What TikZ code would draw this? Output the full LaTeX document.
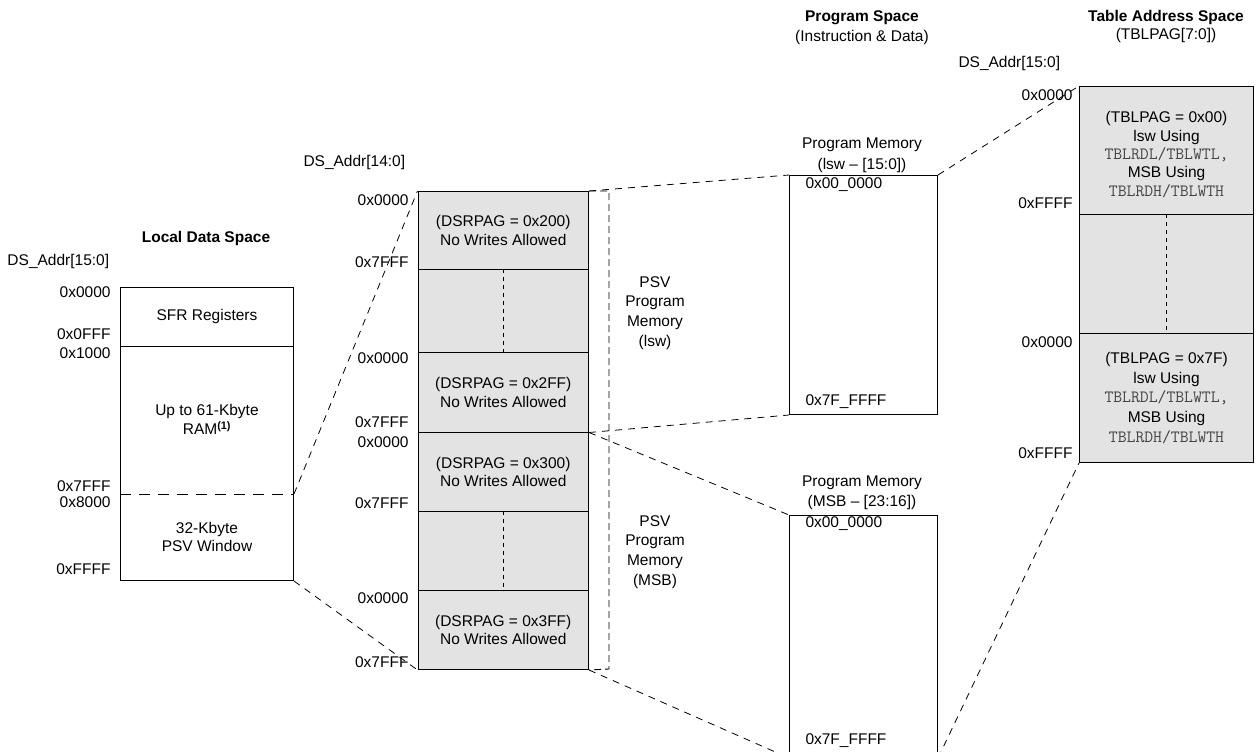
\documentclass[tikz,border=0pt]{standalone}
\usepackage{fontspec}
\setmainfont{Liberation Sans}
\usetikzlibrary{calc}
\definecolor{segfill}{HTML}{E3E3E3}
\definecolor{monogray}{HTML}{444444}
\newcommand{\mono}[1]{{\ttfamily\fontsize{17.2}{19}\selectfont\color{monogray}#1}}
\begin{document}
\begin{tikzpicture}[x=1pt,y=-1pt,
  font=\fontsize{15.5}{18.5}\selectfont,
  line width=1pt,
  outer/.style={draw=black, line width=1pt, inner sep=0pt, anchor=north west},
  seg/.style={draw=black, fill=segfill, line width=1pt, inner sep=0pt, anchor=north west, align=center},
  txt/.style={inner sep=0pt, anchor=north west, align=center},
  lbl/.style={anchor=east, inner sep=0pt},
  lftlbl/.style={anchor=west, inner sep=0pt},
  ttl/.style={inner sep=0pt, font=\fontsize{15.5}{18.5}\selectfont\bfseries},
  conn/.style={draw=black, line width=0.8pt, dash pattern=on 7pt off 6pt},
  longdash/.style={draw=black, line width=1pt, dash pattern=on 11pt off 8pt},
  dotln/.style={draw=black, line width=0.9pt, dash pattern=on 4pt off 4pt},
  brk/.style={draw=black, line width=0.9pt, dash pattern=on 7pt off 4pt}
]
\useasboundingbox (0,0) rectangle (1259,752);

% ---------- Local Data Space ----------
\node[ttl] (ldsttl) at (206,238) {Local Data Space};
\node[lftlbl] (ldsaddr) at (7,261) {DS\_Addr[15:0]};
\node[outer, minimum width=173pt, minimum height=293pt] (loc) at (120,287) {};
\node[txt, minimum width=173pt, minimum height=58pt] (sfr) at (120,287) {SFR Registers};
\node[txt, minimum width=173pt, minimum height=148pt] (ram) at (120,345) {Up to 61-Kbyte\\RAM\textsuperscript{\textbf{(1)}}};
\node[txt, minimum width=173pt, minimum height=87pt] (psvw) at (120,493) {32-Kbyte\\PSV Window};
\draw (sfr.south west) -- (sfr.south east);
\draw[longdash] (ram.south west) -- (ram.south east);
\node[lbl] (la1) at (111,292) {0x0000};
\node[lbl] (la2) at (111,334) {0x0FFF};
\node[lbl] (la3) at (111,353) {0x1000};
\node[lbl] (la4) at (111,486) {0x7FFF};
\node[lbl] (la5) at (111,502) {0x8000};
\node[lbl] (la6) at (111,569) {0xFFFF};

% ---------- Middle column (PSV pages) ----------
\node[lftlbl] (maddr) at (303,162) {DS\_Addr[14:0]};
\node[seg, minimum width=170.5pt, minimum height=78pt] (m1) at (417.5,191) {(DSRPAG = 0x200)\\No Writes Allowed};
\node[seg, minimum width=170.5pt, minimum height=83pt] (m2) at (417.5,269) {};
\node[seg, minimum width=170.5pt, minimum height=79.5pt] (m3) at (417.5,352) {(DSRPAG = 0x2FF)\\No Writes Allowed};
\node[seg, minimum width=170.5pt, minimum height=79.5pt] (m4) at (417.5,431.5) {(DSRPAG = 0x300)\\No Writes Allowed};
\node[seg, minimum width=170.5pt, minimum height=79pt] (m5) at (417.5,511) {};
\node[seg, minimum width=170.5pt, minimum height=79pt] (m6) at (417.5,590) {(DSRPAG = 0x3FF)\\No Writes Allowed};
\draw[dotln] (m2.north) -- (m2.south);
\draw[dotln] (m5.north) -- (m5.south);
\node[lbl] (ma1) at (409,200) {0x0000};
\node[lbl] (ma2) at (409,262) {0x7FFF};
\node[lbl] (ma3) at (409,358) {0x0000};
\node[lbl] (ma4) at (409,422) {0x7FFF};
\node[lbl] (ma5) at (409,442) {0x0000};
\node[lbl] (ma6) at (409,503) {0x7FFF};
\node[lbl] (ma7) at (409,598) {0x0000};
\node[lbl] (ma8) at (409,662) {0x7FFF};
\coordinate (bt) at (609,191);
\coordinate (bb) at (609,669);
\draw[brk] (m1.north east) -- (bt) -- (bb) -- (m6.south east);
\node[inner sep=0pt, align=center, font=\fontsize{15.5}{19.8}\selectfont] (psvl) at (655,313) {PSV\\Program\\Memory\\(lsw)};
\node[inner sep=0pt, align=center, font=\fontsize{15.5}{19.8}\selectfont] (psvm) at (655,552) {PSV\\Program\\Memory\\(MSB)};

% ---------- Program Space ----------
\node[ttl] (psttl) at (862,18) {Program Space};
\node[inner sep=0pt] (pssub) at (862,37) {(Instruction \& Data)};
\node[outer, minimum width=148pt, minimum height=239pt] (pl) at (789,175) {};
\node[inner sep=0pt, align=center, font=\fontsize{15.5}{21}\selectfont] (pltl) at (862,155) {Program Memory\\(lsw -- [15:0])};
\node[lftlbl] (pla1) at (805,185) {0x00\_0000};
\node[lftlbl] (pla2) at (805,402) {0x7F\_FFFF};
\node[outer, minimum width=148pt, minimum height=242pt] (pm) at (789,515) {};
\node[inner sep=0pt, align=center, font=\fontsize{15.5}{20}\selectfont] (pmtl) at (862,493) {Program Memory\\(MSB -- [23:16])};
\node[lftlbl] (pma1) at (805,524) {0x00\_0000};
\node[lftlbl] (pma2) at (805,741) {0x7F\_FFFF};

% ---------- Table Address Space ----------
\node[ttl] (tasttl) at (1166,17) {Table Address Space};
\node[inner sep=0pt] (tassub) at (1166,35) {(TBLPAG[7:0])};
\node[lftlbl] (taddr) at (958,63) {DS\_Addr[15:0]};
\node[seg, minimum width=174pt, minimum height=128pt] (t1) at (1079,86) {};
\node[seg, minimum width=174pt, minimum height=119pt] (t2) at (1079,214) {};
\node[seg, minimum width=174pt, minimum height=129pt] (t3) at (1079,333) {};
\node[inner sep=0pt, align=center, font=\fontsize{15.5}{18.3}\selectfont] (t1txt) at ($(t1.center)+(0,4)$) {(TBLPAG = 0x00)\\lsw Using\\\mono{TBLRDL/TBLWTL,}\\MSB Using\\\mono{TBLRDH/TBLWTH}};
\node[inner sep=0pt, align=center, font=\fontsize{15.5}{19.8}\selectfont] (t3txt) at ($(t3.center)+(0,0)$) {(TBLPAG = 0x7F)\\lsw Using\\\mono{TBLRDL/TBLWTL,}\\MSB Using\\\mono{TBLRDH/TBLWTH}};
\draw[dotln] (t2.north) -- (t2.south);
\node[lbl] (ta1) at (1073,95) {0x0000};
\node[lbl] (ta2) at (1073,203) {0xFFFF};
\node[lbl] (ta3) at (1073,342) {0x0000};
\node[lbl] (ta4) at (1073,453) {0xFFFF};

% ---------- Dashed connectors ----------
\draw[conn] (ram.south east) -- (m1.north west);
\draw[conn] (psvw.south east) -- (m6.south west);
\draw[conn] (m1.north east) -- (pl.north west);
\draw[conn] (m3.south east) -- (pl.south west);
\draw[conn] (m3.south east) -- (pm.north west);
\draw[conn] (m6.south east) -- (pm.south west);
\draw[conn] (pl.north east) -- (t1.north west);
\draw[conn] (pm.south east) -- (t3.south west);
\end{tikzpicture}
\end{document}
